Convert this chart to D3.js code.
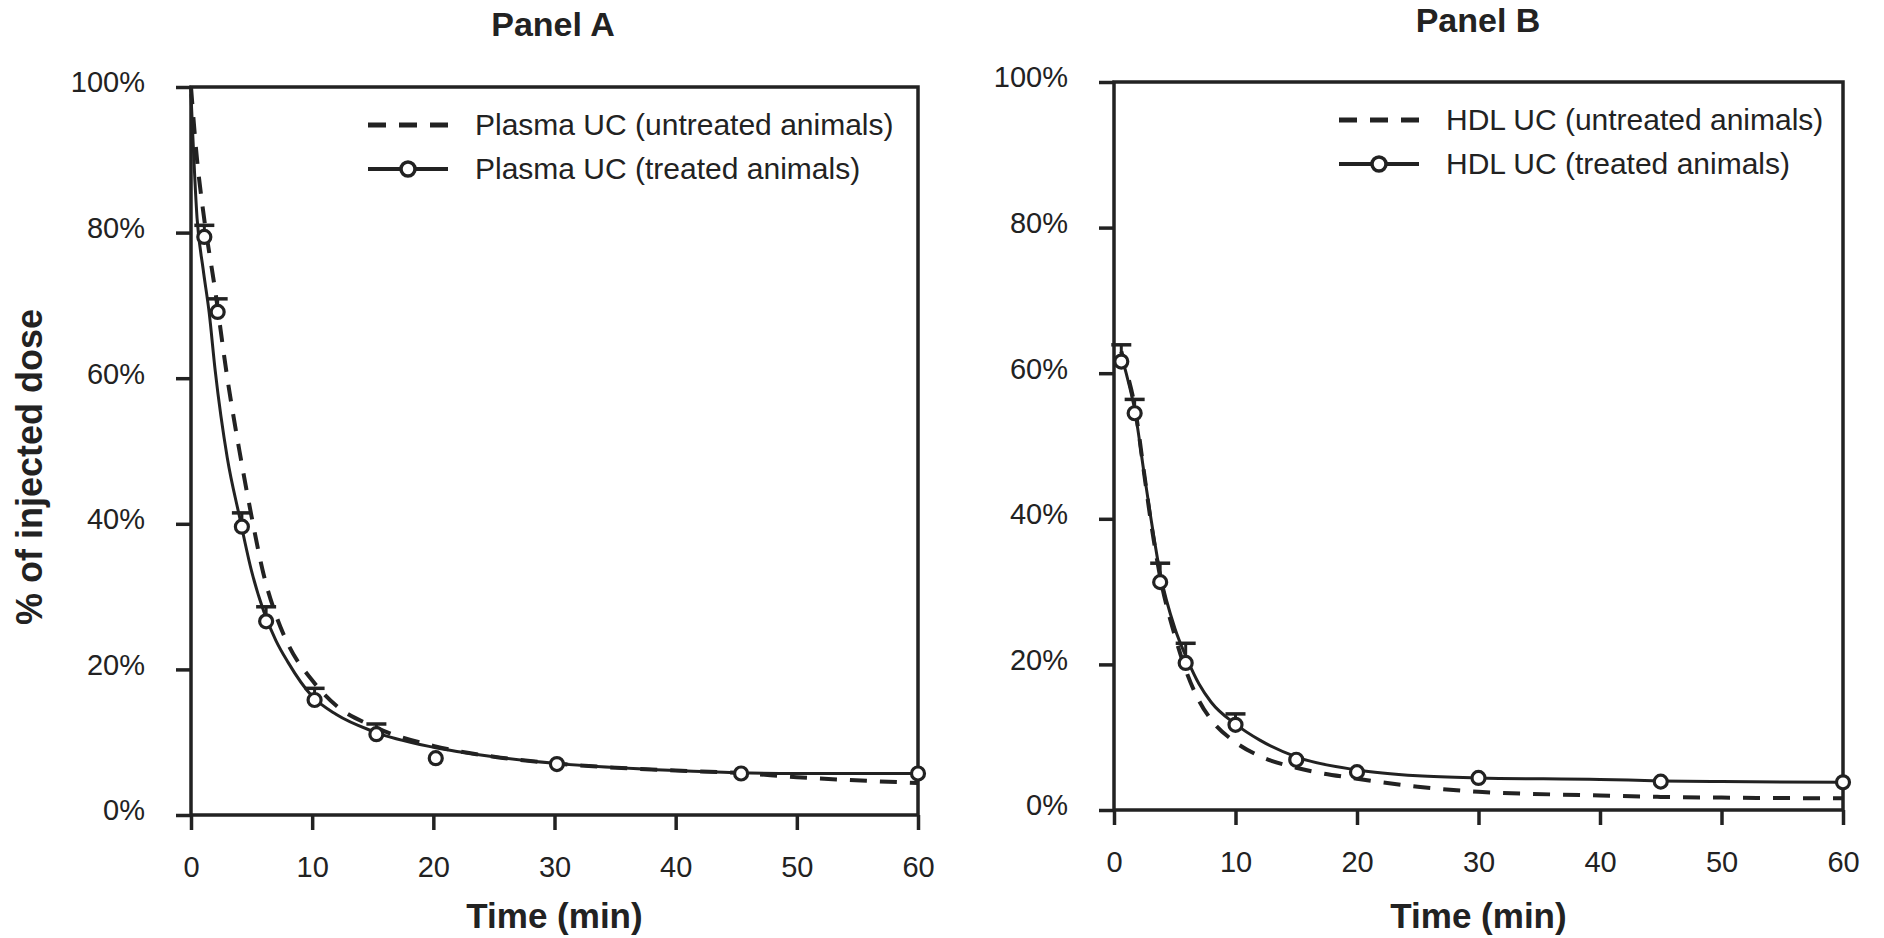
<!DOCTYPE html>
<html>
<head>
<meta charset="utf-8">
<script src="https://cdn.jsdelivr.net/npm/d3@7"></script>
<style>
  body { margin: 0; background: #fff; }
  text { font-family: "Liberation Sans", Arial, sans-serif; fill: #222; }
  .tick text { font-size: 29px; }
  .panelTitle, .axisLabel { font-weight: bold; }
</style>
</head>
<body>
<div id="chart"></div>
<script>
// tick values shared by both panels
const timeTicks = [0, 10, 20, 30, 40, 50, 60];
const pctTicks = [0, 20, 40, 60, 80, 100];

// Panel A - plasma UC
const plasmaTime = [1.1, 2.2, 4.2, 6.2, 10.2, 15.3, 20.2, 30.2, 45.4, 60];
const plasmaTreated = [79.4, 69.1, 39.6, 26.6, 15.8, 11.1, 7.8, 7.0, 5.7, 5.7];
const plasmaTreatedSem = [1.6, 1.8, 1.9, 2.0, 1.6, 1.4, 0, 0, 0, 0];
const plasmaFitTime = [0, 0.5, 1, 1.5, 2, 3, 4, 5, 6, 7, 8, 10, 12, 15, 20, 25, 30, 40, 45, 50, 60];
const plasmaTreatedFit = [99, 82, 75, 69, 61, 49, 41, 33.5, 28, 24, 21, 16.3, 13.8, 11.5, 9.3, 8, 7.1, 6.1, 5.8, 5.7, 5.7];
const plasmaUntreatedTime = [0, 0.5, 1, 2, 3, 4, 5, 6, 7, 8, 10, 12, 15, 20, 25, 30, 40, 45, 50, 60];
const plasmaUntreatedFit = [100, 90, 83, 72, 60, 50, 41, 33, 27.5, 23.5, 18.5, 15, 12.2, 9.5, 8, 7.1, 6.1, 5.8, 5.2, 4.4];

// Panel B - HDL UC
const hdlTime = [0.6, 1.7, 3.8, 5.9, 10, 15, 20, 30, 45, 60];
const hdlTreated = [61.6, 54.5, 31.3, 20.2, 11.7, 6.9, 5.2, 4.4, 3.9, 3.8];
const hdlTreatedSem = [2.3, 1.9, 2.6, 2.7, 1.5, 0, 0, 0, 0, 0];
const hdlFitTime = [0.6, 1, 1.7, 2.5, 3, 3.8, 5, 6, 7, 8, 10, 12, 15, 20, 25, 30, 40, 45, 50, 60];
const hdlTreatedFit = [62.5, 60, 55, 46, 40.5, 32.5, 25, 20.8, 17.3, 14.8, 11.8, 9.6, 7.3, 5.5, 4.7, 4.4, 4.2, 4.0, 3.9, 3.8];
const hdlUntreatedFit = [63, 60.5, 55.5, 46, 40, 32, 24, 18.8, 15, 12.4, 9.3, 7.4, 5.8, 4.3, 3.2, 2.5, 2.0, 1.8, 1.7, 1.6];

const width = 1884;
const height = 938;

const svg = d3.select("#chart")
    .append("svg")
    .attr("width", width)
    .attr("height", height);

const ink = "#222";

function drawPanel(p) {
    const xScale = d3.scaleLinear().domain([0, 60]).range([p.left, p.right]);
    const yScale = d3.scaleLinear().domain([0, 100]).range([p.bottom, p.top]);

    // axes
    const xAxis = svg.append("g")
        .attr("transform", `translate(0,${p.bottom})`)
        .call(d3.axisBottom(xScale).tickValues(timeTicks).tickSize(15).tickPadding(26));
    const yAxis = svg.append("g")
        .attr("transform", `translate(${p.left},0)`)
        .call(d3.axisLeft(yScale).tickValues(pctTicks).tickSize(15).tickPadding(31)
            .tickFormat(d => d + "%"));
    [xAxis, yAxis].forEach(a => {
        a.select(".domain").remove();
        a.selectAll(".tick line").attr("stroke", ink).attr("stroke-width", 3.5);
    });
    yAxis.selectAll(".tick text").attr("dy", "0.17em");

    // frame
    svg.append("rect")
        .attr("x", p.left).attr("y", p.top)
        .attr("width", p.right - p.left).attr("height", p.bottom - p.top)
        .attr("fill", "none").attr("stroke", ink).attr("stroke-width", 3.5);

    // untreated fitted curve (dashed)
    const line = d3.line()
        .x(d => xScale(d[0]))
        .y(d => yScale(d[1]))
        .curve(d3.curveMonotoneX);

    svg.append("path")
        .datum(d3.zip(p.untreatedTime, p.untreatedFit))
        .attr("d", line)
        .attr("fill", "none").attr("stroke", ink)
        .attr("stroke-width", 4).attr("stroke-dasharray", "17,13");

    // treated fitted curve (solid)
    svg.append("path")
        .datum(d3.zip(p.fitTime, p.treatedFit))
        .attr("d", line)
        .attr("fill", "none").attr("stroke", ink).attr("stroke-width", 3);

    // error bars (upper only) + markers
    const pts = p.time.map((t, i) => ({ t: t, v: p.treated[i], sem: p.sem[i] }));
    const bars = svg.selectAll(null).data(pts.filter(d => d.sem > 0)).enter().append("g");
    bars.append("line")
        .attr("x1", d => xScale(d.t)).attr("x2", d => xScale(d.t))
        .attr("y1", d => yScale(d.v)).attr("y2", d => yScale(d.v + d.sem))
        .attr("stroke", ink).attr("stroke-width", 3);
    bars.append("line")
        .attr("x1", d => xScale(d.t) - 10).attr("x2", d => xScale(d.t) + 10)
        .attr("y1", d => yScale(d.v + d.sem)).attr("y2", d => yScale(d.v + d.sem))
        .attr("stroke", ink).attr("stroke-width", 3.5);

    svg.selectAll(null).data(pts).enter().append("circle")
        .attr("cx", d => xScale(d.t))
        .attr("cy", d => yScale(d.v))
        .attr("r", 6.5)
        .attr("fill", "#fff").attr("stroke", ink).attr("stroke-width", 3.2);

    // legend
    const lx = p.legendX;
    const ly = p.top + 38;
    svg.append("line")
        .attr("x1", lx).attr("x2", lx + 80).attr("y1", ly).attr("y2", ly)
        .attr("stroke", ink).attr("stroke-width", 5).attr("stroke-dasharray", "18,13");
    svg.append("line")
        .attr("x1", lx).attr("x2", lx + 80).attr("y1", ly + 44).attr("y2", ly + 44)
        .attr("stroke", ink).attr("stroke-width", 4);
    svg.append("circle")
        .attr("cx", lx + 40).attr("cy", ly + 44).attr("r", 7)
        .attr("fill", "#fff").attr("stroke", ink).attr("stroke-width", 3.5);
    svg.append("text")
        .attr("x", lx + 107).attr("y", ly + 10)
        .style("font-size", "30px")
        .text(p.legend[0]);
    svg.append("text")
        .attr("x", lx + 107).attr("y", ly + 54)
        .style("font-size", "30px")
        .text(p.legend[1]);

    // titles
    svg.append("text")
        .attr("class", "panelTitle")
        .attr("x", p.titleX).attr("y", p.titleY)
        .attr("text-anchor", "middle")
        .style("font-size", "34px")
        .text(p.title);
    svg.append("text")
        .attr("class", "axisLabel")
        .attr("x", (p.left + p.right) / 2).attr("y", 928)
        .attr("text-anchor", "middle")
        .style("font-size", "35px")
        .text("Time (min)");
}

drawPanel({
    left: 191, right: 918, top: 87, bottom: 815,
    time: plasmaTime, treated: plasmaTreated, sem: plasmaTreatedSem,
    fitTime: plasmaFitTime, treatedFit: plasmaTreatedFit,
    untreatedTime: plasmaUntreatedTime, untreatedFit: plasmaUntreatedFit,
    legend: ["Plasma UC (untreated animals)", "Plasma UC (treated animals)"],
    legendX: 368, title: "Panel A", titleX: 553, titleY: 36
});

drawPanel({
    left: 1114, right: 1843, top: 82, bottom: 810,
    time: hdlTime, treated: hdlTreated, sem: hdlTreatedSem,
    fitTime: hdlFitTime, treatedFit: hdlTreatedFit,
    untreatedTime: hdlFitTime, untreatedFit: hdlUntreatedFit,
    legend: ["HDL UC (untreated animals)", "HDL UC (treated animals)"],
    legendX: 1339, title: "Panel B", titleX: 1478, titleY: 32
});

// shared y axis label
svg.append("text")
    .attr("class", "axisLabel")
    .attr("transform", "rotate(-90)")
    .attr("x", -467)
    .attr("y", 42)
    .attr("text-anchor", "middle")
    .style("font-size", "36px")
    .text("% of injected dose");
</script>
</body>
</html>
